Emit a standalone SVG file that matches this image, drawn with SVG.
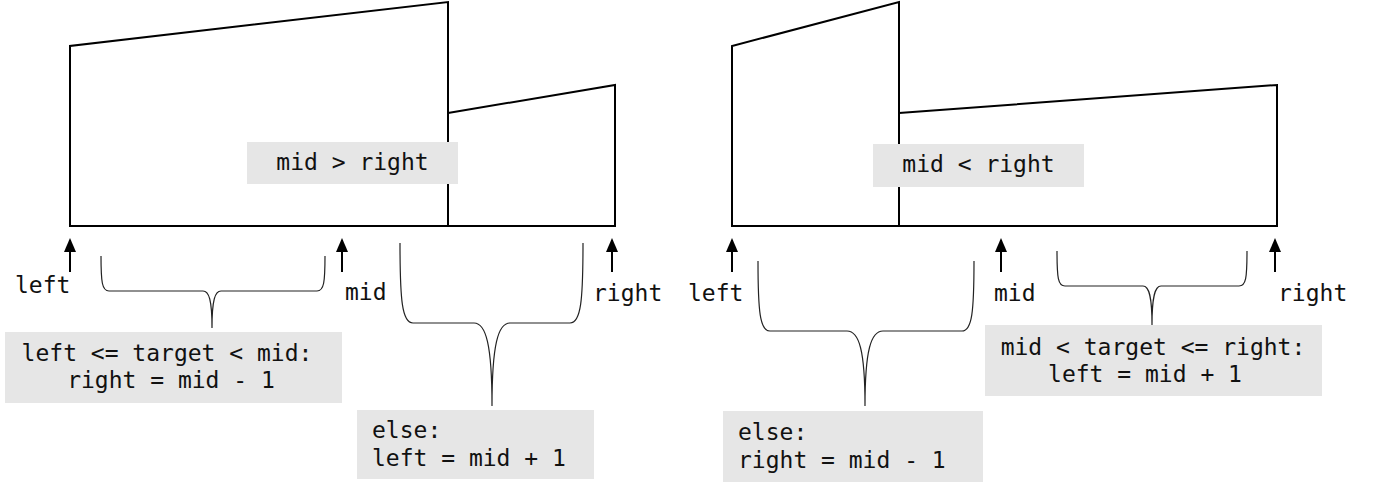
<svg xmlns="http://www.w3.org/2000/svg" width="1381" height="489" viewBox="0 0 1381 489">
<defs>
<marker id="ah" markerUnits="userSpaceOnUse" markerWidth="14" markerHeight="12" refX="12" refY="6" orient="auto" viewBox="0 0 14 12">
<path d="M0,0 L14,6 L0,12 Z" fill="#000"/>
</marker>
<style>
.shape{fill:none;stroke:#000;stroke-width:2;stroke-linejoin:miter}
.ptr{stroke:#000;stroke-width:2;fill:none}
.brace{fill:none;stroke:#222;stroke-width:1.2}
.box{fill:#e6e6e6}
.t{font-family:"DejaVu Sans Mono","Liberation Mono",monospace;font-size:23px;fill:#111}
.c{text-anchor:middle}
</style>
</defs>
<rect width="1381" height="489" fill="#fff"/>

<g id="left-panel-shape">
<path class="shape" d="M70,226 L70,46 L448,2 L448,226 Z"/>
<path class="shape" d="M448,113 L615,85 L615,226 L448,226"/>
</g>
<g id="right-panel-shape">
<path class="shape" d="M732,226 L732,46 L899,2 L899,226 Z"/>
<path class="shape" d="M899,113 L1277,85 L1277,226 L899,226"/>
</g>

<g id="connectors">
<line class="ptr" x1="70" y1="272" x2="70" y2="240" marker-end="url(#ah)"/>
<line class="ptr" x1="342" y1="272" x2="342" y2="240" marker-end="url(#ah)"/>
<line class="ptr" x1="612" y1="272" x2="612" y2="240" marker-end="url(#ah)"/>
<line class="ptr" x1="732" y1="272" x2="732" y2="240" marker-end="url(#ah)"/>
<line class="ptr" x1="1001" y1="272" x2="1001" y2="240" marker-end="url(#ah)"/>
<line class="ptr" x1="1275" y1="272" x2="1275" y2="240" marker-end="url(#ah)"/>
<path class="brace" d="M101,256 C101,282 102,291 109,291 L203,291 C209,291 212,300 212,328 C212,300 215,291 221,291 L317,291 C324,291 325,282 325,256"/>
<path class="brace" d="M400,243 C400,300 402,323 413,323 L474,323 C486,323 492,345 492,406 C492,345 498,323 510,323 L570,323 C581,323 583,300 583,243"/>
<path class="brace" d="M758,261 C758,312 760,331 770,331 L847,331 C859,331 865,350 865,406 C865,350 871,331 883,331 L962,331 C972,331 974,312 974,261"/>
<path class="brace" d="M1057,251 C1057,278 1058,286 1065,286 L1143,286 C1149,286 1152,296 1152,325 C1152,296 1155,286 1161,286 L1239,286 C1246,286 1247,278 1247,251"/>
</g>

<g id="label-left-1"><text class="t" x="15" y="293">left</text></g>
<g id="label-mid-1"><text class="t" x="345" y="300">mid</text></g>
<g id="label-right-1"><text class="t" x="593" y="301">right</text></g>
<g id="label-left-2"><text class="t" x="688" y="301">left</text></g>
<g id="label-mid-2"><text class="t" x="994" y="301">mid</text></g>
<g id="label-right-2"><text class="t" x="1278" y="301">right</text></g>

<g id="cond-mid-gt-right">
<rect class="box" x="247" y="142" width="211" height="42"/>
<text class="t c" x="352.5" y="170">mid &gt; right</text>
</g>
<g id="cond-mid-lt-right">
<rect class="box" x="873" y="144" width="211" height="43"/>
<text class="t c" x="978.5" y="172">mid &lt; right</text>
</g>
<g id="case-left-range">
<rect class="box" x="5" y="332" width="337" height="71"/>
<text class="t c" x="167" y="361">left &lt;= target &lt; mid:</text>
<text class="t c" x="171" y="388">right = mid - 1</text>
</g>
<g id="case-else-1">
<rect class="box" x="357" y="410" width="237" height="69"/>
<text class="t" x="372" y="438">else:</text>
<text class="t" x="372" y="466">left = mid + 1</text>
</g>
<g id="case-else-2">
<rect class="box" x="723" y="411" width="260" height="71"/>
<text class="t" x="738" y="440">else:</text>
<text class="t" x="738" y="468">right = mid - 1</text>
</g>
<g id="case-right-range">
<rect class="box" x="985" y="325" width="337" height="71"/>
<text class="t c" x="1153" y="355">mid &lt; target &lt;= right:</text>
<text class="t c" x="1145" y="382">left = mid + 1</text>
</g>
</svg>
